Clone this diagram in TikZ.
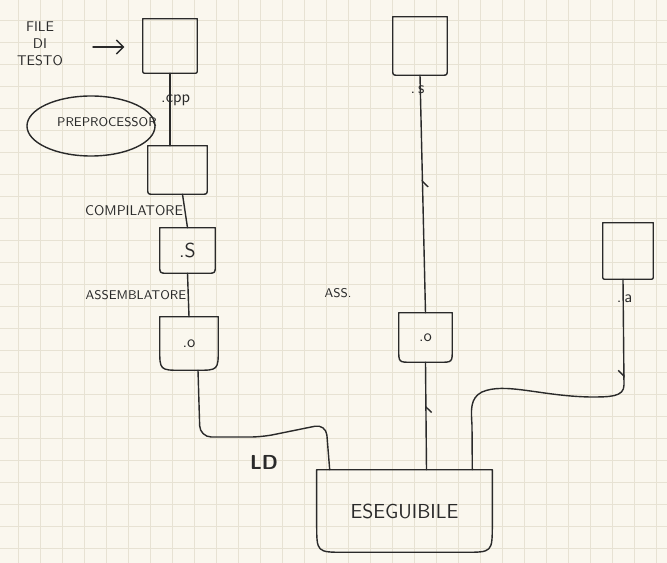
\documentclass[tikz,border=0pt]{standalone}
\usetikzlibrary{calc,arrows.meta,decorations.markings,shapes.geometric}
\definecolor{paper}{HTML}{FAF7EE}
\definecolor{gridc}{HTML}{E7E2D3}
\definecolor{ink}{HTML}{2A2A2A}

\begin{document}
\begin{tikzpicture}[x=0.025cm,y=-0.025cm,
  every node/.style={font=\sffamily, text=ink},
  pen/.style={draw=ink, line width=1pt, line cap=round, line join=round},
  box/.style 2 args={minimum width=#1, minimum height=#2, inner sep=0pt},
  lbl/.style={inner sep=1pt, font=\sffamily\large},
  upmark/.style={postaction={decorate}, decoration={markings,
    mark=at position #1 with {\arrowreversed{Straight Barb[harpoon,length=4pt,width=8pt]}}}},
  downmark/.style={postaction={decorate}, decoration={markings,
    mark=at position #1 with {\arrow{Straight Barb[harpoon,swap,length=4pt,width=8pt]}}}}]

  % paper
  \useasboundingbox (0,0) rectangle (667,563);
  \fill[paper] (0,0) rectangle (667,563);
  \foreach \gx in {18,40,...,666} \draw[gridc, line width=0.6pt] (\gx,0) -- (\gx,563);
  \foreach \gy in {20,42,...,562} \draw[gridc, line width=0.6pt] (0,\gy) -- (667,\gy);

  % boxes
  \node[box={1.35cm}{1.35cm}] (src) at (170,46) {};
  \node[box={1.475cm}{1.2cm}] (ppbox) at (177.5,170) {};
  \node[box={1.375cm}{1.125cm}, font=\sffamily\Large] (asmS) at (187.5,250.5) {.S};
  \node[box={1.45cm}{1.325cm}, font=\sffamily\large] (objL) at (189,343.5) {.o};
  \node[box={1.35cm}{1.45cm}] (srcS) at (420,46) {};
  \node[box={1.325cm}{1.225cm}, font=\sffamily\large] (objM) at (425.5,337.5) {.o};
  \node[box={1.25cm}{1.4cm}] (lib) at (628,251) {};
  \node[box={4.375cm}{2.05cm}, font=\sffamily\Large] (exe) at (404.5,511) {ESEGUIBILE};
  \foreach \b/\r in {src/4, ppbox/6, asmS/8, objL/22, srcS/6, objM/13, lib/4, exe/28}
    \draw[pen] (\b.north west) -- (\b.north east) -- ($(\b.south east)+(0,-\r)$)
      .. controls (\b.south east) .. ($(\b.south east)+(-\r,0)$)
      -- ($(\b.south west)+(\r,0)$)
      .. controls (\b.south west) .. ($(\b.south west)+(0,-\r)$) -- cycle;

  % left column
  \node[align=center] (filetxt) at (40,44) {FILE\\DI\\TESTO};
  \coordinate (arrowtail) at (93,47);
  \draw[pen, -{Straight Barb[length=5pt,width=10pt]}, shorten >=13pt] (arrowtail) -- (src.west |- arrowtail);
  \node[pen, ellipse, minimum width=3.2cm, minimum height=1.5cm] (prep) at (91,126) {};
  \node[font=\sffamily\small] (preptxt) at (107,122) {PREPROCESSOR};
  \draw[pen] (src.south) -- node[lbl, pos=.37, xshift=4pt] {.cpp} (src.south |- ppbox.north);
  \draw[pen] ($(ppbox.south)+(5,0)$) -- node[lbl, left, pos=.5, font=\sffamily] {COMPILATORE} (asmS.north);
  \draw[pen] (asmS.south) -- node[lbl, left, pos=.5, font=\sffamily\small] {ASSEMBLATORE} (objL.north);
  \draw[pen, rounded corners=8pt] ($(objL.south)+(9,0)$) -- (200,437) -- (262,437) -- (326,424)
    -- ($(exe.north west)+(13,0)$);
  \node[font=\sffamily\Large\bfseries] (ldlbl) at (264,462) {LD};

  % middle column
  \node[font=\sffamily\small] (asslbl) at (338,293) {ASS.};
  \draw[pen, upmark=.44] (srcS.south) -- node[lbl, pos=.06, xshift=-2pt] {.\,s} (objM.north);
  \draw[pen, upmark=.4] (objM.south) -- ($(exe.north)+(22,0)$);

  % right column
  \draw[pen, downmark=70pt] ($(lib.south)+(-5,0)$) -- node[lbl, pos=.18, xshift=1pt] {.\,a} (624,385)
    .. controls (624,397) and (610,397) .. (590,397)
    .. controls (540,396) and (505,382) .. (482,392)
    .. controls (470,398) and (471,410) .. (472,425) -- ($(exe.north east)+(-20,0)$);
\end{tikzpicture}
\end{document}
